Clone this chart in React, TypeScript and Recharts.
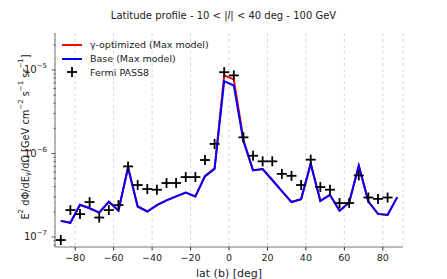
import React from 'react';
import { ComposedChart, Line, XAxis, YAxis, CartesianGrid } from 'recharts';

const lat = [-87.5, -82.5, -77.5, -72.5, -67.5, -62.5, -57.5, -52.5, -47.5, -42.5, -37.5, -32.5, -27.5, -22.5, -17.5, -12.5, -7.5, -2.5, 2.5, 7.5, 12.5, 17.5, 22.5, 27.5, 32.5, 37.5, 42.5, 47.5, 52.5, 57.5, 62.5, 67.5, 72.5, 77.5, 82.5, 87.5];

const fermi: (number | null)[] = [9.2e-8, 2.1e-7, 1.88e-7, 2.62e-7, 1.71e-7, 2.1e-7, 2.41e-7, 7.0e-7, 4.19e-7, 3.75e-7, 3.68e-7, 4.43e-7, 4.43e-7, 5.22e-7, 5.22e-7, 8.35e-7, 1.3e-6, 9.4e-6, 8.6e-6, 1.56e-6, 9.4e-7, 8.05e-7, 8.05e-7, 5.7e-7, 5.4e-7, 4.19e-7, 8.43e-7, 3.96e-7, 3.68e-7, 2.55e-7, 2.55e-7, 5.46e-7, 2.97e-7, 2.86e-7, 2.97e-7, null];

const baseModel = [1.56e-7, 1.48e-7, 2.43e-7, 2.21e-7, 1.96e-7, 2.64e-7, 2.07e-7, 6.8e-7, 2.32e-7, 2.02e-7, 2.41e-7, 2.74e-7, 3.06e-7, 3.41e-7, 3.06e-7, 5.31e-7, 6.52e-7, 7.34e-6, 6.52e-6, 1.4e-6, 6.27e-7, 6.52e-7, 4.81e-7, 3.55e-7, 2.62e-7, 2.84e-7, 7.55e-7, 2.71e-7, 3.2e-7, 2.06e-7, 2.59e-7, 7.15e-7, 2.66e-7, 1.89e-7, 1.84e-7, 3.0e-7];

const gammaOpt = [1.56e-7, 1.48e-7, 2.43e-7, 2.21e-7, 1.96e-7, 2.64e-7, 2.07e-7, 6.8e-7, 2.32e-7, 2.02e-7, 2.41e-7, 2.74e-7, 3.06e-7, 3.41e-7, 3.06e-7, 5.4e-7, 6.65e-7, 8.6e-6, 7.7e-6, 1.46e-6, 6.3e-7, 6.52e-7, 4.81e-7, 3.55e-7, 2.62e-7, 2.84e-7, 7.55e-7, 2.71e-7, 3.2e-7, 2.06e-7, 2.59e-7, 7.15e-7, 2.66e-7, 1.89e-7, 1.84e-7, 3.0e-7];

const xTicks = [-80, -60, -40, -20, 0, 20, 40, 60, 80];
const yTicks = [8e-8, 9e-8, 1e-7, 2e-7, 3e-7, 4e-7, 5e-7, 6e-7, 7e-7, 8e-7, 9e-7, 1e-6, 2e-6, 3e-6, 4e-6, 5e-6, 6e-6, 7e-6, 8e-6, 9e-6, 1e-5, 2e-5];

const legendItems = [
  { name: 'γ-optimized (Max model)', color: '#ff0000', kind: 'line' },
  { name: 'Base (Max model)', color: '#0000ff', kind: 'line' },
  { name: 'Fermi PASS8', color: '#000000', kind: 'plus' },
];

const data = lat.map((b, i) => ({ lat: b, gamma: gammaOpt[i], base: baseModel[i], fermi: fermi[i] }));

const FONT = 'DejaVu Sans, sans-serif';

const PlusDot = (props: any) => {
  const { cx, cy, value, index } = props;
  if (value == null || cx == null || cy == null) return <g key={`p${index}`} />;
  return (
    <g key={`p${index}`}>
      <line x1={cx - 5} x2={cx + 5} y1={cy} y2={cy} stroke="#000" strokeWidth={1.8} />
      <line x1={cx} x2={cx} y1={cy - 5} y2={cy + 5} stroke="#000" strokeWidth={1.8} />
    </g>
  );
};

const YTick = (props: any) => {
  const { x, y, payload } = props;
  const v = payload.value;
  const exp = Math.round(Math.log10(v));
  const major = Math.abs(v - Math.pow(10, exp)) / v < 1e-6;
  return (
    <g>
      <line x1={x + (major ? 4.5 : 6.5)} x2={x + 8.5} y1={y} y2={y} stroke="#333" strokeWidth={0.8} />
      {major && (
        <text x={x} y={y} dy="0.35em" textAnchor="end" fontFamily={FONT} fontSize={10} fill="#222">
          <tspan>10</tspan>
          <tspan dy={-5} fontSize={7}>{`−${-exp}`}</tspan>
        </text>
      )}
    </g>
  );
};

const XTick = (props: any) => {
  const { x, y, payload } = props;
  return (
    <text x={x} y={y} dy="0.75em" textAnchor="middle" fontFamily={FONT} fontSize={9.5} fill="#222">
      {String(payload.value).replace('-', '−')}
    </text>
  );
};

const YLabel = (props: any) => {
  const vb = props.viewBox || {};
  const cx = vb.x + 25;
  const cy = vb.y + vb.height / 2 - 3;
  return (
    <text x={cx} y={cy} transform={`rotate(-90 ${cx} ${cy})`} textAnchor="middle" dominantBaseline="central" fontFamily={FONT} fontSize={9.8} fill="#222">
      <tspan>E</tspan>
      <tspan dy={-4} fontSize={7}>2</tspan>
      <tspan dy={4}> dΦ/dE</tspan>
      <tspan dy={3} fontSize={7}>γ</tspan>
      <tspan dy={-3}>/dΩ [GeV cm</tspan>
      <tspan dy={-4} fontSize={7}>−2</tspan>
      <tspan dy={4}> s</tspan>
      <tspan dy={-4} fontSize={7}>−1</tspan>
      <tspan dy={4}> sr</tspan>
      <tspan dy={-4} fontSize={7}>−1</tspan>
      <tspan dy={4}>]</tspan>
    </text>
  );
};

const LegendBox = () => (
  <div style={{ position: 'absolute', left: 62, top: 38, fontFamily: FONT, fontSize: 9.5, color: '#222' }}>
    {legendItems.map((it) => (
      <div key={it.name} style={{ display: 'flex', alignItems: 'center', height: 13.8 }}>
        <svg width={28} height={12} style={{ display: 'block' }}>
          {it.kind === 'line' ? (
            <line x1={0} x2={20} y1={6} y2={6} stroke={it.color} strokeWidth={2} />
          ) : (
            <g>
              <line x1={5} x2={15} y1={6} y2={6} stroke="#000" strokeWidth={1.8} />
              <line x1={10} x2={10} y1={1} y2={11} stroke="#000" strokeWidth={1.8} />
            </g>
          )}
        </svg>
        <span>{it.name}</span>
      </div>
    ))}
  </div>
);

export default function App() {
  return (
    <div style={{ position: 'absolute', left: 0, top: 0, width: 447, height: 279, background: '#fff' }}>
      <div style={{ position: 'absolute', left: 0, top: 10, width: 447, textAlign: 'center', fontFamily: FONT, fontSize: 10, color: '#222' }}>
        Latitude profile - 10 &lt; |<i>l</i>| &lt; 40 deg - 100 GeV
      </div>
      <ComposedChart width={447} height={279} data={data} margin={{ top: 33, right: 44, bottom: 0, left: 0 }}>
        <CartesianGrid horizontal={false} strokeDasharray="3 3" stroke="#d8d8d8" />
        <XAxis
          dataKey="lat"
          type="number"
          domain={[-90.5, 90.5]}
          ticks={xTicks}
          interval={0}
          height={32}
          tickSize={3.5}
          tickMargin={3}
          stroke="#777"
          tick={<XTick />}
          tickLine={{ stroke: '#333' }}
          label={{ value: 'lat (b) [deg]', position: 'insideBottom', offset: 2, fontFamily: FONT, fontSize: 11, fill: '#222' }}
          allowDataOverflow
        />
        <XAxis xAxisId="top" orientation="top" dataKey="lat" type="number" domain={[-90.5, 90.5]} height={0} tick={false} tickLine={false} stroke="#777" />
        <YAxis
          type="number"
          scale="log"
          domain={[7.59e-8, 2.77e-5]}
          ticks={yTicks}
          interval={0}
          width={55}
          tickSize={4}
          tickMargin={4}
          tickLine={false}
          stroke="#777"
          tick={<YTick />}
          allowDataOverflow
          label={{ content: <YLabel /> }}
        />
        <YAxis yAxisId="right" orientation="right" width={0} tick={false} tickLine={false} stroke="#777" />
        <Line dataKey="gamma" stroke="#ff0000" strokeWidth={2} dot={false} isAnimationActive={false} />
        <Line dataKey="base" stroke="#0000ff" strokeWidth={2} dot={false} isAnimationActive={false} />
        <Line dataKey="fermi" stroke="none" dot={<PlusDot />} activeDot={false} isAnimationActive={false} />
      </ComposedChart>
      <LegendBox />
    </div>
  );
}
